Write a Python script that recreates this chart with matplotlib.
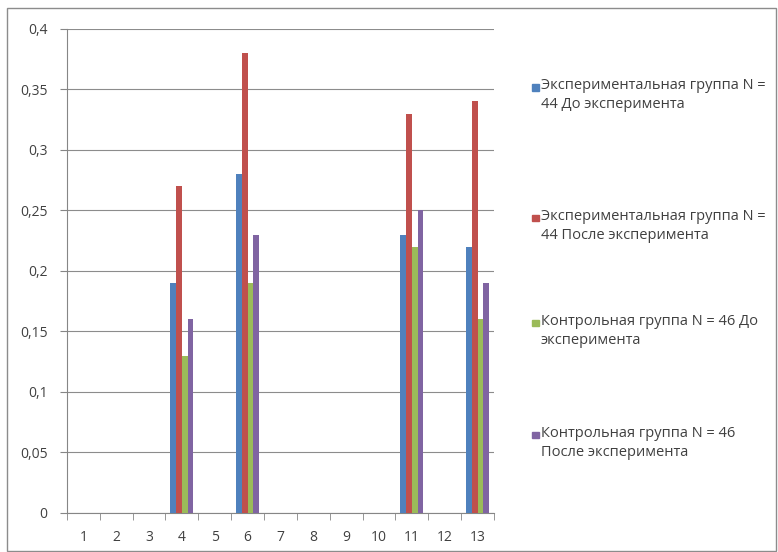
import matplotlib.pyplot as plt
import numpy as np

plt.rcParams['font.family'] = ['Open Sans', 'DejaVu Sans']

# Данные по группам (категории 1..13)
kategorii = list(range(1, 14))
exp_do = [0, 0, 0, 0.19, 0, 0.28, 0, 0, 0, 0, 0.23, 0, 0.22]
exp_posle = [0, 0, 0, 0.27, 0, 0.38, 0, 0, 0, 0, 0.33, 0, 0.34]
kontr_do = [0, 0, 0, 0.13, 0, 0.19, 0, 0, 0, 0, 0.22, 0, 0.16]
kontr_posle = [0, 0, 0, 0.16, 0, 0.23, 0, 0, 0, 0, 0.25, 0, 0.19]
nazvaniya = ['Экспериментальная группа N =\n44 До эксперимента',
             'Экспериментальная группа N =\n44 После эксперимента',
             'Контрольная группа N = 46 До\nэксперимента',
             'Контрольная группа N = 46\nПосле эксперимента']
yticks = [0, 0.05, 0.1, 0.15, 0.2, 0.25, 0.3, 0.35, 0.4]
ytick_labels = ['0', '0,05', '0,1', '0,15', '0,2', '0,25', '0,3', '0,35', '0,4']
tsveta = ['#4F81BD', '#C0504D', '#9BBB59', '#8064A2']

fig = plt.figure(figsize=(7.78, 5.52), dpi=100)
# рамка диаграммы
fig.patches.append(plt.Rectangle((0.009, 0.002), 0.989, 0.983, transform=fig.transFigure,
                                 fill=False, edgecolor='#8c8c8c', linewidth=1))

ax = fig.add_axes([0.086, 0.0707, 0.549, 0.877])
x = np.arange(len(kategorii))
shirina = 0.175
serii = [exp_do, exp_posle, kontr_do, kontr_posle]
for i, (vals, c) in enumerate(zip(serii, tsveta)):
    ax.bar(x + (i - 1.5) * shirina, vals, width=shirina, color=c,
           linewidth=0, zorder=3)

ax.set_xlim(-0.5, len(kategorii) - 0.5)
ax.set_ylim(0, 0.4)
ax.set_yticks(yticks)
ax.set_yticklabels(ytick_labels)
ax.set_xticks(x)
ax.set_xticklabels([str(k) for k in kategorii])
ax.set_xticks(np.arange(-0.5, len(kategorii)), minor=True)
ax.tick_params(axis='x', which='major', length=0, pad=12)
ax.tick_params(axis='x', which='minor', length=5, color='#868686', direction='out')
ax.tick_params(axis='y', length=5, color='#868686', pad=9)
ax.tick_params(labelsize=10, labelcolor='#404040')
ax.grid(axis='y', color='#8c8c8c', linewidth=0.8, zorder=0)
for s in ['top', 'right']:
    ax.spines[s].set_visible(False)
ax.spines['left'].set_color('#868686')
ax.spines['bottom'].set_color('#868686')

# легенда: квадрат на уровне первой строки подписи
leg_y = [0.842, 0.605, 0.415, 0.212]
for c, lab, yy in zip(tsveta, nazvaniya, leg_y):
    fig.patches.append(plt.Rectangle((0.684, yy - 0.006), 0.0085, 0.012,
                                     transform=fig.transFigure, color=c))
    fig.text(0.695, yy + 0.016, lab, fontsize=10.5, color='#404040', va='top',
             linespacing=1.35)

fig.savefig('out.png', dpi=100)
